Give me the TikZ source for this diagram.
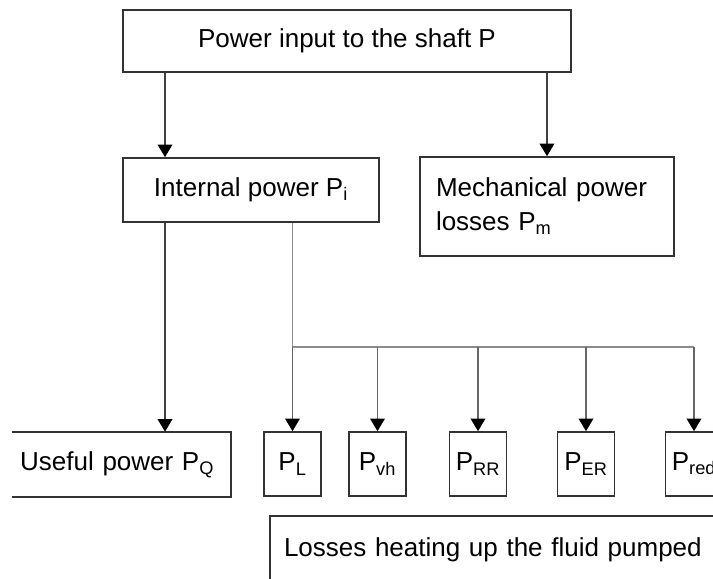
\documentclass[tikz,border=0pt]{standalone}
\usepackage{fontspec}
\setmainfont{Liberation Sans}
\usepackage{tikz}
\usetikzlibrary{arrows.meta}

\begin{document}
\begin{tikzpicture}[x=0.75pt, y=-0.75pt,
    font=\fontsize{19.5}{25.5}\selectfont,
    box/.style={draw=black!80, line width=1.2pt, inner sep=0pt, minimum height=48pt},
    openbox/.style={inner sep=0pt, minimum height=48pt},
    boxline/.style={draw=black!80, line width=1.2pt},
    lossbox/.style={box, minimum width=42.75pt},
    arr/.style={draw=black!75, line width=1.2pt, -{Triangle[length=9.5pt, width=11pt, color=black]}},
    busline/.style={draw=black!45, line width=1.2pt}]
    \useasboundingbox (0,0) rectangle (713,578);
    \clip (0,0) rectangle (713,578);

    % Boxes
    \node[box, minimum width=336pt, minimum height=46.5pt] (shaft) at (347,41) {Power input to the shaft P};
    \node[box, minimum width=192pt] (internal) at (251,190) {Internal power P\textsubscript{i}};
    \node[box, minimum width=190.5pt, minimum height=74.25pt, text width=166.5pt, align=left] (mech) at (547,206.5) {Mechanical power\\losses P\textsubscript{m}};
    \node[openbox, minimum width=164.25pt, minimum height=48.75pt, text width=152pt, align=left] (useful) at (121.5,464.5) {Useful power P\textsubscript{Q}};
    \draw[boxline] (useful.north west) -- (useful.north east) -- (useful.south east) -- (useful.south west);

    % Losses heating up the fluid
    \foreach \name/\x/\sub in {pl/292.5/L, pvh/377.5/vh, prr/478/RR, per/586/ER, pred/694/red} {
        \node[lossbox] (\name) at (\x,464) {P\textsubscript{\sub}};
    }
    \node[box, minimum width=375pt, minimum height=51pt, text width=354pt, align=left] (heat) at (520,550) {Losses heating up the fluid pumped};

    % Connectors
    \coordinate (lft) at (165,0);
    \coordinate (split) at (292.5,347);
    \draw[arr] (shaft.south -| lft) -- (internal.north -| lft);
    \draw[arr] (shaft.south -| mech) -- (mech.north);
    \draw[arr] (internal.south -| lft) -- (useful.north -| lft);
    \draw[busline] (internal.south -| split) -- (split) -- (split -| pred);
    \foreach \name in {pl, pvh, prr, per, pred} {
        \draw[arr, draw=black!60] (split -| \name) -- (\name.north);
    }

\end{tikzpicture}
\end{document}
